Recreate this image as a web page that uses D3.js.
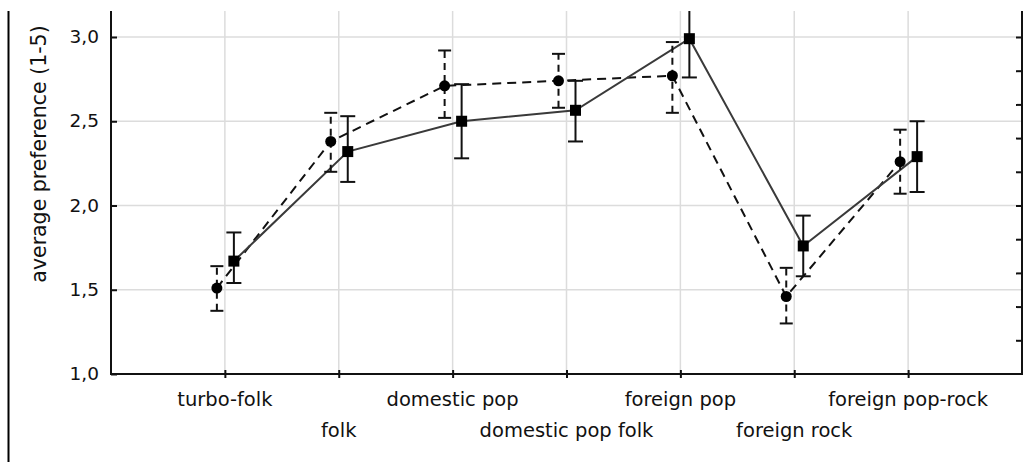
<!DOCTYPE html>
<html>
<head>
<meta charset="utf-8">
<script src="https://cdn.jsdelivr.net/npm/d3@7"></script>
<style>
  html, body { margin: 0; padding: 0; background: #fff; }
  svg { display: block; font-family: 'DejaVu Sans', sans-serif; }
</style>
</head>
<body>
<svg id="chart"></svg>
<script>
const categories = ['turbo-folk', 'folk', 'domestic pop', 'domestic pop folk', 'foreign pop', 'foreign rock', 'foreign pop-rock'];

// dashed series, circle markers
const meanA = [1.51, 2.38, 2.71, 2.74, 2.77, 1.46, 2.26];
const lowA = [1.375, 2.20, 2.52, 2.58, 2.55, 1.30, 2.07];
const highA = [1.64, 2.55, 2.92, 2.90, 2.97, 1.63, 2.45];

// solid series, square markers
const meanB = [1.67, 2.32, 2.50, 2.565, 2.99, 1.76, 2.29];
const lowB = [1.54, 2.14, 2.28, 2.38, 2.76, 1.58, 2.08];
const highB = [1.84, 2.53, 2.72, 2.74, 3.22, 1.94, 2.50];

const yTicks = [1.0, 1.5, 2.0, 2.5, 3.0];
const yMinorTicks = [1.2, 1.4, 1.6, 1.8, 2.0, 2.2, 2.4, 2.6, 2.8, 3.0];
const yTitle = 'average preference (1-5)';

const W = 1027, H = 462;
const m = { left: 111, right: 1022, top: 11, bottom: 374 };

const svg = d3.select('#chart').attr('width', W).attr('height', H);

const x = d3.scaleLinear().domain([0, categories.length + 1]).range([m.left, m.right]);
const y = d3.scaleLinear().domain([1, 3]).range([m.bottom, 37]);
const fmt = d => d3.format('.1f')(d).replace('.', ',');

// outer left frame line
svg.append('line').attr('x1', 8.5).attr('x2', 8.5).attr('y1', m.top).attr('y2', H)
  .attr('stroke', '#000').attr('stroke-width', 2);

// grid
const grid = svg.append('g').attr('stroke', '#dcdcdc').attr('stroke-width', 1.5);
grid.selectAll('line.h').data(yTicks.slice(1)).join('line').attr('class', 'h')
  .attr('x1', m.left).attr('x2', m.right).attr('y1', d => y(d)).attr('y2', d => y(d));
grid.selectAll('line.v').data(categories).join('line').attr('class', 'v')
  .attr('x1', (d, i) => x(i + 1)).attr('x2', (d, i) => x(i + 1)).attr('y1', m.top).attr('y2', m.bottom);

// axes
const yAxis = d3.axisRight(y).tickValues(yTicks).tickSize(6).tickFormat('');
const gy = svg.append('g').attr('transform', `translate(${m.left},0)`).call(yAxis);
const yAxisR = d3.axisLeft(y).tickValues(yMinorTicks).tickSize(6).tickFormat('');
const gyr = svg.append('g').attr('transform', `translate(${m.right},0)`).call(yAxisR);
const xAxis = d3.axisBottom(x).tickValues(d3.range(1, categories.length + 1)).tickSize(4).tickFormat('');
const gx = svg.append('g').attr('transform', `translate(0,${m.bottom})`).call(xAxis);
[gy, gyr, gx].forEach(g => {
  g.select('.domain').remove();
  g.selectAll('.tick line').attr('stroke', '#111').attr('stroke-width', 2);
});
gx.selectAll('.tick line').attr('y1', -4);

svg.append('path')
  .attr('d', `M${m.left},${m.top}V${m.bottom}H${m.right}V${m.top}`)
  .attr('fill', 'none').attr('stroke', '#111').attr('stroke-width', 2);

// y tick labels
svg.append('g').selectAll('text').data(yTicks).join('text')
  .attr('x', 99).attr('y', d => y(d) + 6)
  .attr('text-anchor', 'end').attr('font-size', 18.5).attr('fill', '#111')
  .text(fmt);

// y title
svg.append('text')
  .attr('transform', 'translate(46,154) rotate(-90)')
  .attr('text-anchor', 'middle').attr('font-size', 20.5).attr('fill', '#111')
  .text(yTitle);

// category labels, alternating rows
svg.append('g').selectAll('text').data(categories).join('text')
  .attr('x', (d, i) => x(i + 1))
  .attr('y', (d, i) => i % 2 === 0 ? 406 : 437)
  .attr('text-anchor', 'middle').attr('font-size', 19.5).attr('fill', '#111')
  .text(d => d);

// data
svg.append('clipPath').attr('id', 'plot-clip')
  .append('rect').attr('x', m.left).attr('y', m.top).attr('width', m.right - m.left).attr('height', m.bottom - m.top);
const plot = svg.append('g').attr('clip-path', 'url(#plot-clip)');

const offA = -8, offB = 9;
const px = (i, off) => x(i + 1) + off;

// connecting lines
plot.append('path')
  .datum(meanA)
  .attr('d', d3.line().x((d, i) => px(i, offA)).y(d => y(d)))
  .attr('fill', 'none').attr('stroke', '#111').attr('stroke-width', 2).attr('stroke-dasharray', '9,6');
plot.append('path')
  .datum(meanB)
  .attr('d', d3.line().x((d, i) => px(i, offB)).y(d => y(d)))
  .attr('fill', 'none').attr('stroke', '#3a3a3a').attr('stroke-width', 2);

function errorBars(mean, low, high, off, dashed, cap) {
  const g = plot.append('g').attr('stroke', '#111').attr('stroke-width', 2);
  mean.forEach((v0, i) => {
    const cx = px(i, off);
    g.append('line').attr('x1', cx).attr('x2', cx).attr('y1', y(low[i])).attr('y2', y(high[i]))
      .attr('stroke-dasharray', dashed ? '7,5' : null);
    [low[i], high[i]].forEach(v => {
      g.append('line').attr('x1', cx - cap).attr('x2', cx + cap).attr('y1', y(v)).attr('y2', y(v));
    });
  });
}
errorBars(meanA, lowA, highA, offA, true, 6.5);
errorBars(meanB, lowB, highB, offB, false, 7.5);

// markers
plot.append('g').selectAll('circle').data(meanA).join('circle')
  .attr('cx', (d, i) => px(i, offA)).attr('cy', d => y(d)).attr('r', 5.5).attr('fill', '#000');
plot.append('g').selectAll('rect').data(meanB).join('rect')
  .attr('x', (d, i) => px(i, offB) - 5.5).attr('y', d => y(d) - 5.5)
  .attr('width', 11).attr('height', 11).attr('fill', '#000');
</script>
</body>
</html>
